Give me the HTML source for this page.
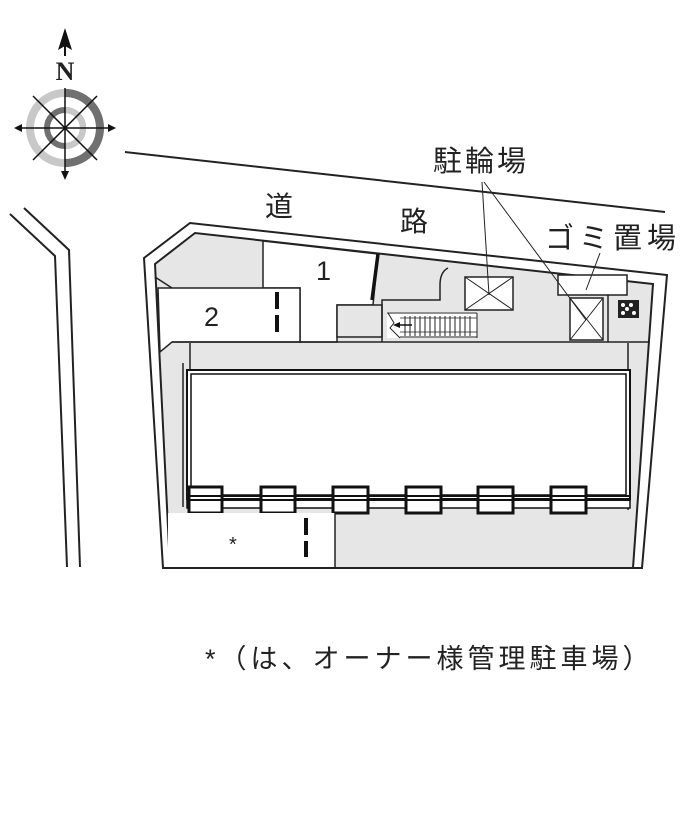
<!DOCTYPE html>
<html><head><meta charset="utf-8"><style>
html,body{margin:0;padding:0;background:#fff;width:700px;height:822px;overflow:hidden}
svg{display:block}
text{font-family:"Liberation Sans","Noto Sans CJK JP",sans-serif;fill:#222}
</style></head><body>
<svg width="700" height="822" viewBox="0 0 700 822" xmlns="http://www.w3.org/2000/svg">
<g>
<circle cx="65" cy="128" r="35" fill="none" stroke="#c8c8c8" stroke-width="8"/>
<path d="M65 93 A35 35 0 0 1 65 163" fill="none" stroke="#707070" stroke-width="8"/>
<circle cx="65" cy="128" r="18" fill="none" stroke="#707070" stroke-width="6"/>
<path d="M65 110 A18 18 0 0 1 65 146" fill="none" stroke="#c8c8c8" stroke-width="6"/>
<g stroke="#111" stroke-width="1.5">
<line x1="65" y1="88" x2="65" y2="178"/>
<line x1="16" y1="128" x2="114" y2="128"/>
<line x1="33" y1="96" x2="97" y2="160"/>
<line x1="97" y1="96" x2="33" y2="160"/>
</g>
<polygon points="65,28 58,50 65,46 72,50" fill="#111"/>
<line x1="65" y1="46" x2="65" y2="56" stroke="#111" stroke-width="2"/>
<polygon points="14,128 22,124 22,132" fill="#111"/>
<polygon points="116,128 108,124 108,132" fill="#111"/>
<polygon points="65,180 61,171 69,171" fill="#111"/>
<text x="65" y="80" text-anchor="middle" style="font-family:'Liberation Serif',serif;font-weight:bold;font-size:26px" fill="#111">N</text>
</g>
<g stroke="#222" stroke-width="2" fill="none">
<polyline points="10,214 55,256 67,567"/>
<polyline points="24,208 69,250 80,567"/>
</g>
<line x1="125" y1="152" x2="665" y2="212" stroke="#222" stroke-width="2"/>
<polygon points="144,258 190,223 667,275 642,568 163,568" fill="#fff" stroke="#222" stroke-width="2"/>
<polygon points="155,264 195,233 653,284 633,568 170,568" fill="#e6e6e6" stroke="#222" stroke-width="2"/>
<polygon points="263,241 378,254 373,305 337,305 337,342 300,342 300,288 263,288" fill="#fff" stroke="#222" stroke-width="1.5"/>
<polygon points="158,288 300,288 300,342 172,342 160,352" fill="#fff" stroke="#222" stroke-width="1.5"/>
<line x1="155" y1="277" x2="172" y2="288" stroke="#222" stroke-width="1.5"/>
<line x1="378" y1="254" x2="372" y2="300" stroke="#111" stroke-width="3.5"/>
<line x1="277" y1="292" x2="277" y2="309" stroke="#111" stroke-width="4"/>
<line x1="277" y1="315" x2="277" y2="332" stroke="#111" stroke-width="4"/>
<rect x="337" y="305" width="45" height="32" fill="#e6e6e6" stroke="#222" stroke-width="1.5"/>
<path d="M382 342 L382 300 L440 300 L440 285 Q440 272 448 268" fill="none" stroke="#222" stroke-width="1.5"/>
<rect x="387" y="312" width="90" height="26" fill="#fff"/>
<g stroke="#222" stroke-width="1">
<line x1="387" y1="313" x2="477" y2="313"/><line x1="400" y1="337" x2="477" y2="337"/>
<line x1="477" y1="313" x2="477" y2="338"/>
<path d="M400 318 h77 M400 332 h77" stroke-width="0.8"/>
<path d="M405 316v20M410 316v20M415 316v20M420 316v20M425 316v20M430 316v20M435 316v20M440 316v20M445 316v20M450 316v20M455 316v20M460 316v20M465 316v20M470 316v20"/>
<polyline points="388,313 394,323 390,328 400,338" fill="none"/>
</g>
<line x1="395" y1="325" x2="412" y2="325" stroke="#111" stroke-width="1.5"/>
<polygon points="393,325 400,322 400,328" fill="#111"/>
<g fill="#fff" stroke="#222" stroke-width="1.5">
<rect x="465" y="277" width="48" height="33"/>
<path d="M465 277 L513 310 M513 277 L465 310" fill="none" stroke-width="1"/>
<rect x="558" y="275" width="69" height="20"/>
<rect x="570" y="298" width="33" height="42"/>
<path d="M570 298 L603 340 M603 298 L570 340" fill="none" stroke-width="1"/>
</g>
<line x1="608" y1="295" x2="608" y2="342" stroke="#222" stroke-width="1.5"/>
<rect x="618" y="300" width="21" height="18" fill="#222"/>
<g fill="#fff"><circle cx="623" cy="305" r="2"/><circle cx="631" cy="305" r="2"/><circle cx="627" cy="309" r="2"/><circle cx="623" cy="313" r="2"/><circle cx="634" cy="313" r="2"/></g>
<line x1="172" y1="342" x2="650" y2="342" stroke="#222" stroke-width="1.5"/>
<line x1="190" y1="343" x2="190" y2="370" stroke="#222" stroke-width="1.5"/>
<line x1="628" y1="343" x2="628" y2="510" stroke="#222" stroke-width="1.5"/>
<line x1="183" y1="363" x2="183" y2="507" stroke="#222" stroke-width="1.5"/>
<rect x="187" y="370" width="443" height="129" fill="#fff" stroke="#111" stroke-width="2"/>
<rect x="191" y="374" width="435" height="121" fill="#fff" stroke="#111" stroke-width="1.5"/>
<rect x="187" y="499" width="443" height="9" fill="#fff" stroke="#111" stroke-width="1.5"/>
<g fill="#fff" stroke="#111" stroke-width="3">
<rect x="189" y="487" width="33" height="26"/><rect x="261" y="487" width="34" height="26"/>
<rect x="333" y="487" width="35" height="26"/><rect x="406" y="487" width="35" height="26"/>
<rect x="478" y="487" width="35" height="26"/><rect x="551" y="487" width="35" height="26"/>
</g>
<g stroke="#111" stroke-width="2"><line x1="187" y1="496" x2="630" y2="496"/><line x1="187" y1="500" x2="630" y2="500"/></g>
<rect x="168" y="513" width="167" height="54" fill="#fff"/>
<line x1="335" y1="513" x2="335" y2="568" stroke="#222" stroke-width="1.5"/>
<line x1="306" y1="518" x2="306" y2="535" stroke="#111" stroke-width="4"/>
<line x1="306" y1="541" x2="306" y2="557" stroke="#111" stroke-width="4"/>
<line x1="163" y1="568" x2="642" y2="568" stroke="#222" stroke-width="2"/>
<g stroke="#222" stroke-width="1" fill="none">
<line x1="482" y1="182" x2="489" y2="295"/>
<line x1="484" y1="182" x2="586" y2="320"/>
<line x1="600" y1="253" x2="586" y2="290"/>
</g>
<text x="265" y="216" font-size="28">道</text>
<text x="400" y="231" font-size="28">路</text>
<text x="433" y="171" font-size="29" letter-spacing="3">駐輪場</text>
<text x="545" y="248" font-size="29" letter-spacing="5">ゴミ置場</text>
<text x="316" y="280" font-size="27">1</text>
<text x="204" y="326" font-size="27">2</text>
<text x="229" y="551" font-size="20">*</text>
<text x="205" y="668" font-size="27" letter-spacing="4">*（は、オーナー様管理駐車場）</text>
</svg>
</body></html>
